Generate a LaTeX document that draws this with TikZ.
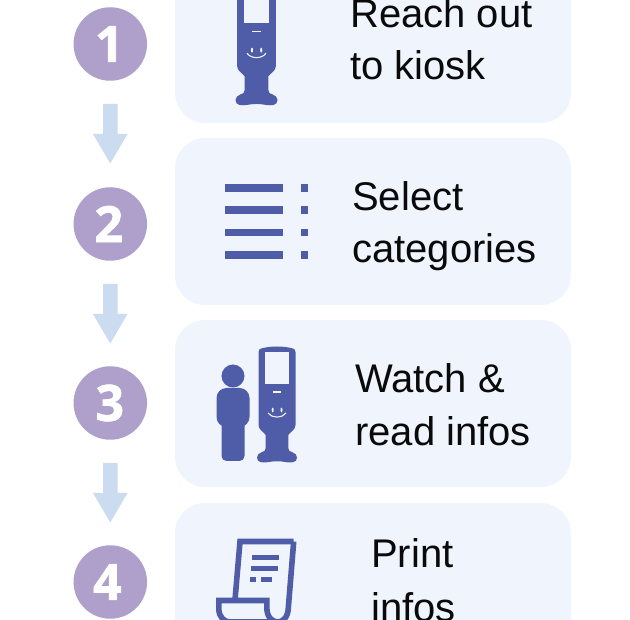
\documentclass[tikz,border=0pt]{standalone}
\usepackage{fontspec}
\setmainfont{Liberation Sans}
\newfontfamily\numf{Open Sans}
\newcommand{\heavy}[1]{\special{pdf:code q 2 Tr 0.7 w}#1\special{pdf:code Q}}
\definecolor{cardc}{HTML}{F0F4FC}
\definecolor{circc}{HTML}{AE9FCB}
\definecolor{arrc}{HTML}{CBDCF0}
\definecolor{iconc}{HTML}{4F5CA8}
\definecolor{textc}{HTML}{0A0A0A}
\tikzset{
  card/.style={fill=cardc,rounded corners=30pt},
  numc/.style={circle,fill=circc,minimum size=73.5pt,inner sep=0pt,text=white,font=\numf\fontsize{50}{50}\selectfont\bfseries},
  lab/.style={anchor=base west,inner sep=0pt,text=textc,font=\fontsize{40}{40}\selectfont},
  blockarrow/.style={fill=arrc},
  ic/.style={fill=iconc},
  icl/.style={draw=iconc,line width=5.6pt,line join=miter},
  smile/.style={draw=cardc,line width=1.1pt},
  kiosk/.pic={
    \fill[ic] (-18.5,5) .. controls (-18.5,2) and (-17,1.5) .. (-14,1) .. controls (-5,-1) and (5,-1) .. (14,1) .. controls (17,1.5) and (18.5,2) .. (18.5,5)
      -- (18.5,78) .. controls (18.5,83) and (13,85) .. (11.3,88) -- (11.3,101)
      .. controls (11.3,104) and (13,104.5) .. (15,105) .. controls (18,106) and (20,108) .. (20,110.5) .. controls (20,116) and (14,116) .. (8,115)
      .. controls (3,114) and (-3,114) .. (-8,115) .. controls (-14,116) and (-20,116) .. (-20,110.5) .. controls (-20,108) and (-18,106) .. (-15,105) .. controls (-13,104.5) and (-11.3,104) .. (-11.3,101)
      -- (-11.3,88) .. controls (-13,85) and (-18.5,83) .. (-18.5,78) -- cycle;
    \fill[cardc] (-11.7,5.3) rectangle (11.7,37);
    \draw[smile] (-4,45) -- (4,45);
    \draw[smile] (-9,66) .. controls (-5,71.5) and (5,71.5) .. (9,66);
    \fill[cardc] (-4.3,63) ellipse (1 and 2.4) (4.5,63) ellipse (1 and 2.4);
  }
}
\begin{document}
\begin{tikzpicture}[x=1pt,y=-1pt]
\useasboundingbox (0,0) rectangle (630,620);
\clip (0,0) rectangle (630,620);
\fill[card] (175,-44) rectangle (571,123);
\fill[card] (175,138) rectangle (571,305);
\fill[card] (175,320) rectangle (571,487);
\fill[card] (175,503) rectangle (571,670);
\node[numc] (n1) at (110.3,44) {\heavy{1}\kern2pt};
\node[numc] (n2) at (110.3,224) {\heavy{2}\kern3pt};
\node[numc] (n3) at (110.3,403) {\heavy{3}\kern1pt};
\node[numc] (n4) at (110.3,582) {\heavy{4}\kern6pt};
\foreach \t in {104,284,463}{
  \fill[blockarrow] (103,\t) -- (117.5,\t) -- (117.5,\t+30) -- (127.5,\t+30) -- (110.25,\t+59.5) -- (93,\t+30) -- (103,\t+30) -- cycle;
}
\node[lab] (t1a) at (350,28) {Reach out};
\node[lab] (t1b) at (350,80) {to kiosk};
\node[lab] (t2a) at (352,211) {Select};
\node[lab] (t2b) at (352,263) {categories};
\node[lab] (t3a) at (355,393) {Watch \&};
\node[lab] (t3b) at (355,446) {read infos};
\node[lab] (t4a) at (371,568) {Print};
\node[lab] (t4b) at (371,621) {infos};
% kiosk 1
\pic[scale=1.05,transform shape] at (256.5,-16) {kiosk};
% menu
\foreach \y in {188,210.2,232.7,255.2}{
  \fill[ic] (225,\y-3.7) rectangle (283.3,\y+3.7);
  \fill[ic] (301,\y-3.7) rectangle (308.3,\y+3.7);
}
% person and kiosk 3
\fill[ic] (233,376) circle (11.5);
\fill[ic,rounded corners=10pt] (216.5,388) rectangle (249.5,427);
\fill[ic,rounded corners=5pt] (221.5,410) rectangle (244.5,461);
\pic at (277,347) {kiosk};
% document
\draw[icl] (293.7,541.5) -- (240,541.5) -- (235,600);
\draw[icl] (293.7,541.5) -- (288.3,608) .. controls (288,617) and (283,622) .. (278,622) .. controls (272,622) and (267,617) .. (266.8,608) -- (266.8,600.5) -- (218.8,600.5) -- (218.8,609) .. controls (219,617) and (224,622) .. (230,622) -- (278,622);
\fill[ic] (252.3,555) rectangle (279.3,560);
\fill[ic] (251,565.7) rectangle (278.3,571);
\fill[ic] (250,576.7) rectangle (256,582);
\fill[ic] (261,576.7) rectangle (272.3,582);
\end{tikzpicture}
\end{document}
